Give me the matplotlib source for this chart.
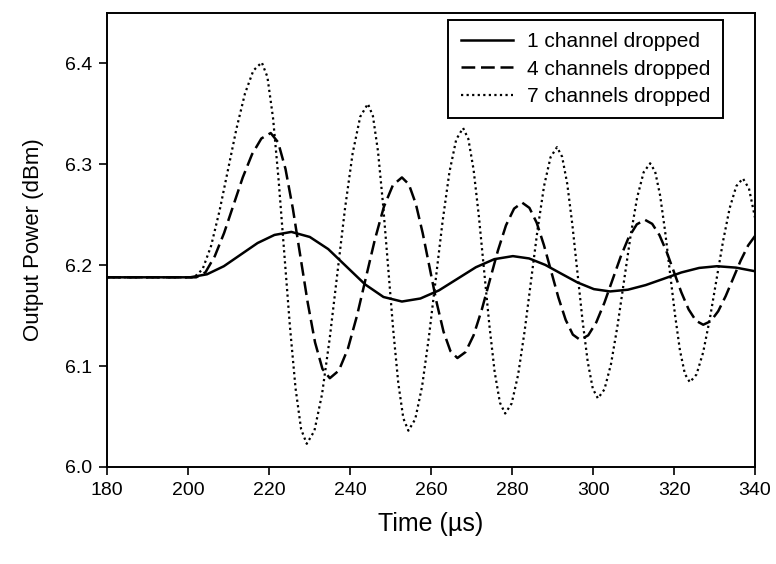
import matplotlib.pyplot as plt

# Output power vs time for three drop scenarios
t_one = [180.0, 200.5, 204.67, 208.83, 213.0, 217.17, 221.33, 225.5,
         230.05, 234.6, 239.15, 243.7, 248.25, 252.8,
         257.37, 261.93, 266.5, 271.07, 275.63, 280.2,
         284.2, 288.2, 292.2, 296.2, 300.2, 304.2,
         308.6, 313.0, 317.4, 321.8, 326.2, 330.6, 335.3, 340.0]
p_one = [6.188, 6.188, 6.191, 6.199, 6.2105, 6.222, 6.230, 6.233,
         6.228, 6.216, 6.1985, 6.181, 6.1685, 6.164,
         6.167, 6.175, 6.1865, 6.198, 6.206, 6.209,
         6.2067, 6.2003, 6.1915, 6.1828, 6.1763, 6.174,
         6.1757, 6.1803, 6.1865, 6.1928, 6.1973, 6.199, 6.1976, 6.194]

t_four = [180.0, 202.0, 204.3, 206.6, 208.9, 211.2, 213.5, 215.8, 218.1, 220.4,
          222.23, 224.05, 225.88, 227.7, 229.53, 231.35, 233.18, 235.0,
          237.23, 239.45, 241.68, 243.9, 246.13, 248.35, 250.58, 252.8,
          254.51, 256.23, 257.94, 259.65, 261.36, 263.08, 264.79, 266.5,
          268.5, 270.5, 272.5, 274.5, 276.5, 278.5, 280.5, 282.5,
          284.29, 286.08, 287.86, 289.65, 291.44, 293.23, 295.01, 296.8,
          298.8, 300.8, 302.8, 304.8, 306.8, 308.8, 310.8, 312.8,
          314.6, 316.4, 318.2, 320.0, 321.8, 323.6, 325.4, 327.2,
          329.05, 330.9, 332.75, 334.6, 336.45, 338.3, 340.0]
p_four = [6.188, 6.188, 6.193, 6.209, 6.232, 6.2595, 6.287, 6.310, 6.3256, 6.331,
          6.3218, 6.2955, 6.2559, 6.2095, 6.1631, 6.1235, 6.0972, 6.088,
          6.0956, 6.1171, 6.1495, 6.1875, 6.2255, 6.2579, 6.2794, 6.287,
          6.2802, 6.2609, 6.2317, 6.1975, 6.1633, 6.1341, 6.1148, 6.108,
          6.1139, 6.1305, 6.1556, 6.185, 6.2144, 6.2395, 6.2561, 6.262,
          6.2568, 6.2421, 6.220, 6.194, 6.168, 6.1459, 6.1312, 6.126,
          6.1305, 6.1434, 6.1628, 6.1855, 6.2082, 6.2276, 6.2405, 6.245,
          6.241, 6.2298, 6.2129, 6.193, 6.1731, 6.1562, 6.145, 6.141,
          6.1445, 6.1544, 6.1694, 6.187, 6.2046, 6.2196, 6.229]

t_seven = [180.0, 201.5, 203.59, 205.68, 207.76, 209.85, 211.94, 214.03, 216.11, 218.2,
           219.59, 220.98, 222.36, 223.75, 225.14, 226.53, 227.91, 229.3,
           231.19, 233.08, 234.96, 236.85, 238.74, 240.63, 242.51, 244.4,
           245.65, 246.9, 248.15, 249.4, 250.65, 251.9, 253.15, 254.4,
           256.09, 257.78, 259.46, 261.15, 262.84, 264.53, 266.21, 267.9,
           269.2, 270.5, 271.8, 273.1, 274.4, 275.7, 277.0, 278.3,
           279.9, 281.5, 283.1, 284.7, 286.3, 287.9, 289.5, 291.1,
           292.36, 293.63, 294.89, 296.15, 297.41, 298.68, 299.94, 301.2,
           302.81, 304.43, 306.04, 307.65, 309.26, 310.88, 312.49, 314.1,
           315.33, 316.55, 317.78, 319.0, 320.23, 321.45, 322.68, 323.9,
           325.54, 327.18, 328.81, 330.45, 332.09, 333.73, 335.36, 337.0,
           338.5, 340.0]
p_seven = [6.188, 6.188, 6.1961, 6.2191, 6.2538, 6.2945, 6.3352, 6.3699, 6.3929, 6.401,
           6.3866, 6.3458, 6.2842, 6.212, 6.1398, 6.0782, 6.0374, 6.023,
           6.0358, 6.0722, 6.1271, 6.1915, 6.2559, 6.3108, 6.3472, 6.360,
           6.3477, 6.3127, 6.2599, 6.198, 6.1361, 6.0833, 6.0483, 6.036,
           6.0474, 6.0798, 6.1287, 6.186, 6.2433, 6.2922, 6.3246, 6.336,
           6.3252, 6.2947, 6.2486, 6.1945, 6.1404, 6.0943, 6.0638, 6.053,
           6.063, 6.0915, 6.1346, 6.185, 6.2354, 6.2785, 6.307, 6.317,
           6.3075, 6.2806, 6.2401, 6.1925, 6.1449, 6.1044, 6.0775, 6.068,
           6.0769, 6.102, 6.140, 6.1845, 6.229, 6.267, 6.2921, 6.301,
           6.2928, 6.2693, 6.2339, 6.1925, 6.1511, 6.1157, 6.0922, 6.084,
           6.0917, 6.1135, 6.1464, 6.185, 6.2236, 6.2565, 6.2783, 6.286,
           6.276, 6.247]

labels = ["1 channel dropped", "4 channels dropped", "7 channels dropped"]
x_ticks = [180, 200, 220, 240, 260, 280, 300, 320, 340]
y_ticks = [6.0, 6.1, 6.2, 6.3, 6.4]

plt.rcParams["font.family"] = ["Liberation Sans", "DejaVu Sans"]

fig = plt.figure(figsize=(7.76, 5.64), dpi=100)
ax = fig.add_axes([0.138, 0.172, 0.835, 0.805])

ax.plot(t_one, p_one, color="black", linewidth=1.8, linestyle="-", label=labels[0])
ax.plot(t_four, p_four, color="black", linewidth=1.8, linestyle=(0, (5.5, 2.3)),
        label=labels[1])
ax.plot(t_seven, p_seven, color="black", linewidth=1.6, linestyle=(0, (1, 1.5)),
        label=labels[2])

ax.set_xlim(180, 340)
ax.set_ylim(6.0, 6.45)
ax.set_xticks(x_ticks)
ax.set_yticks(y_ticks)
ax.set_xticklabels([str(v) for v in x_ticks])
ax.set_yticklabels([f"{v:.1f}" for v in y_ticks])
ax.tick_params(direction="out", length=6, width=1.2, labelsize=14, pad=5,
               top=False, right=False)
for s in ax.spines.values():
    s.set_linewidth(1.4)
    s.set_color("black")

ax.set_xlabel("Time (\u00b5s)", fontsize=18, labelpad=9)
ax.set_ylabel("Output Power (dBm)", fontsize=16, labelpad=15)

leg = ax.legend(loc="upper right", bbox_to_anchor=(0.951, 0.985), borderaxespad=0,
                fontsize=15, handlelength=2.5, handletextpad=0.7, labelspacing=0.4,
                fancybox=False, framealpha=1, edgecolor="black", borderpad=0.6)
leg.get_frame().set_linewidth(1.4)

fig.savefig("out.png", dpi=100)
